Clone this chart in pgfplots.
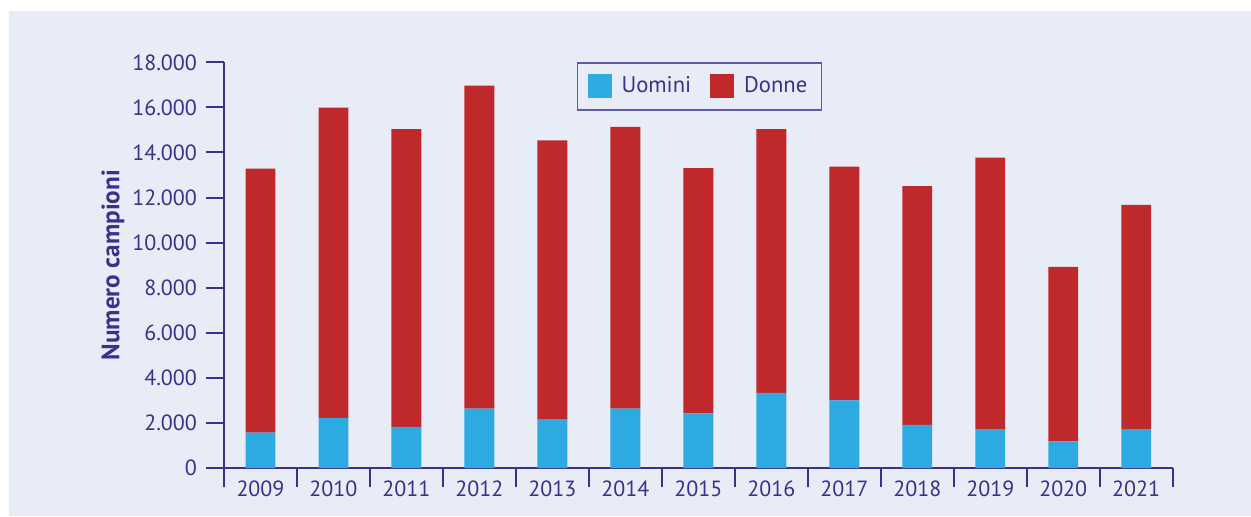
\documentclass[border=0pt]{standalone}
\usepackage{pgfplots}
\pgfplotsset{compat=1.18}
\usepackage{pgfplotstable}
\usepackage{fontspec}
\setmainfont{PT Sans}
\definecolor{navy}{RGB}{59,48,141}
\definecolor{lav}{RGB}{232,236,247}
\definecolor{cblue}{RGB}{46,170,226}
\definecolor{cred}{RGB}{192,41,43}
\definecolor{legbord}{RGB}{96,88,168}
\pgfplotstableread{
x uomini donne
0 1570 11710
1 2220 13770
2 1820 13220
3 2630 14330
4 2170 12370
5 2630 12510
6 2420 10880
7 3330 11710
8 3000 10370
9 1910 10600
10 1730 12040
11 1180 7740
12 1730 9940
}\datatable
\begin{document}
\begin{tikzpicture}
\fill[white] (-112pt,-24pt) rectangle (513.5pt,234pt);
\fill[lav] (-107.5pt,-24pt) rectangle (513.5pt,228.5pt);
\begin{axis}[
  at={(0,0)}, anchor=south west,
  scale only axis, width=474.35pt, height=202.85pt,
  xmin=-0.5, xmax=12.5, ymin=0, ymax=18000,
  axis x line=bottom, axis y line=left,
  axis line style={-, navy, line width=1pt},
  ybar stacked, bar width=0.41,
  xtick={0,...,12},
  xticklabels={2009,2010,2011,2012,2013,2014,2015,2016,2017,2018,2019,2020,2021},
  minor xtick={-0.5,0.5,...,12.5},
  major x tick style={draw=none},
  minor x tick style={navy, line width=1pt},
  minor tick length=9.5pt,
  ytick={0,2000,...,18000},
  scaled y ticks=false,
  yticklabel={\pgfmathprintnumber[fixed, precision=0, 1000 sep={.}, assume math mode=true]{\tick}},
  major y tick style={navy, line width=1pt},
  major tick length=9pt,
  tick align=outside,
  ticklabel style={font=\fontsize{11}{12}\selectfont, text=navy},
  yticklabel style={xshift=-1pt},
  xticklabel style={yshift=6pt},
  ylabel={Numero campioni},
  ylabel style={at={(axis description cs:-0.117,0.5)}, anchor=center, font=\bfseries\fontsize{12.6}{14}\selectfont, text=navy},
  legend columns=2,
  legend style={at={(axis description cs:0.372,1.0)}, anchor=north west,
    draw=legbord, line width=0.6pt, fill=none, text=navy,
    font=\fontsize{11.3}{12}\selectfont,
    inner xsep=5pt, inner ysep=5pt,
    /tikz/every even column/.append style={column sep=7.5pt}},
  legend image code/.code={\fill[#1] (0pt,-6pt) rectangle (12pt,6pt); \path (15pt,0pt);},
  clip=false,
]
\addplot[fill=cblue, draw=none] table[x=x, y=uomini] {\datatable};
\addlegendentry{Uomini}
\addplot[fill=cred, draw=none] table[x=x, y=donne] {\datatable};
\addlegendentry{Donne}
\end{axis}
\pgfresetboundingbox
\path (-112pt,-24pt) rectangle (513.5pt,234pt);
\end{tikzpicture}
\end{document}
